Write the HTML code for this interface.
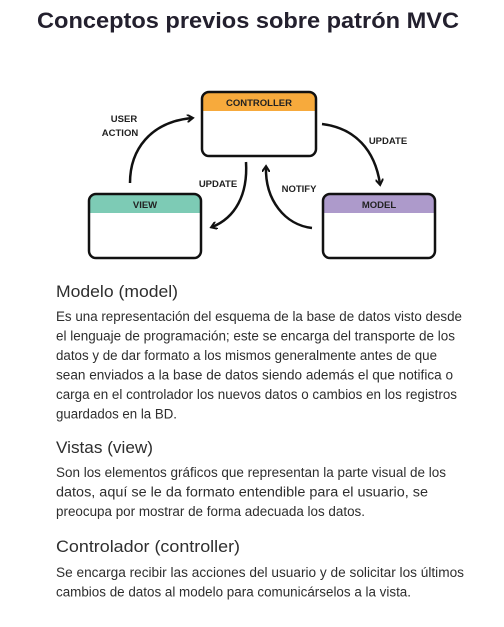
<!DOCTYPE html>
<html><head><meta charset="utf-8"><style>
html,body{margin:0;padding:0;background:#fff;width:504px;height:627px;overflow:hidden}
svg{display:block}
.t{font-family:"Liberation Sans",Arial,sans-serif;fill:#2e2e2e}
.d{font-family:"Liberation Sans",Arial,sans-serif;font-size:9.5px;font-weight:bold;fill:#222}
</style></head><body>
<svg width="504" height="627" viewBox="0 0 504 627" xmlns="http://www.w3.org/2000/svg">
<defs><marker id="a" markerWidth="8" markerHeight="8" refX="5" refY="4" orient="auto" markerUnits="userSpaceOnUse"><path d="M0,0 L6,4 L0,8" fill="none" stroke="#111" stroke-width="2"/></marker></defs>
<text x="248" y="28" text-anchor="middle" font-family="Liberation Sans,Arial,sans-serif" font-weight="bold" font-size="22" fill="#23202e" textLength="422" lengthAdjust="spacingAndGlyphs">Conceptos previos sobre patrón MVC</text>

<g stroke="#111" stroke-width="2.5">
<path d="M202,111 V98 a6,6 0 0 1 6,-6 H310 a6,6 0 0 1 6,6 V111 Z" fill="#f7aa3c" stroke="none"/>
<rect x="202" y="92" width="114" height="64" rx="7" fill="none"/>
<path d="M89,213 V200 a6,6 0 0 1 6,-6 H195 a6,6 0 0 1 6,6 V213 Z" fill="#7dcbb5" stroke="none"/>
<rect x="89" y="194" width="112" height="64" rx="7" fill="none"/>
<path d="M323,213 V200 a6,6 0 0 1 6,-6 H429 a6,6 0 0 1 6,6 V213 Z" fill="#ad9acb" stroke="none"/>
<rect x="323" y="194" width="112" height="64" rx="7" fill="none"/>
</g>
<text class="d" x="259" y="106" text-anchor="middle">CONTROLLER</text>
<text class="d" x="145" y="208" text-anchor="middle">VIEW</text>
<text class="d" x="379" y="208" text-anchor="middle">MODEL</text>

<g fill="none" stroke="#111" stroke-width="2.5" marker-end="url(#a)">
<path d="M130,183 C130,150 150,122 192,118"/>
<path d="M322,124 C355,128 375,150 380,184"/>
<path d="M246,162 C248,195 235,218 212,227"/>
<path d="M312,228 C285,225 265,200 266,167"/>
</g>
<text class="d" x="124" y="122" text-anchor="middle">USER</text>
<text class="d" x="120" y="136" text-anchor="middle">ACTION</text>
<text class="d" x="388" y="144" text-anchor="middle">UPDATE</text>
<text class="d" x="218" y="187" text-anchor="middle">UPDATE</text>
<text class="d" x="299" y="192" text-anchor="middle">NOTIFY</text>

<text class="t" x="56" y="297" font-size="17" textLength="122" lengthAdjust="spacingAndGlyphs">Modelo (model)</text>
<g class="t" font-size="13.5">
<text x="56" y="321" textLength="406" lengthAdjust="spacingAndGlyphs">Es una representación del esquema de la base de datos visto desde</text>
<text x="56" y="340.5" textLength="399" lengthAdjust="spacingAndGlyphs">el lenguaje de programación; este se encarga del transporte de los</text>
<text x="56" y="360" textLength="381" lengthAdjust="spacingAndGlyphs">datos y de dar formato a los mismos generalmente antes de que</text>
<text x="56" y="379.5" textLength="397" lengthAdjust="spacingAndGlyphs">sean enviados a la base de datos siendo además el que notifica o</text>
<text x="56" y="399" textLength="401" lengthAdjust="spacingAndGlyphs">carga en el controlador los nuevos datos o cambios en los registros</text>
<text x="56" y="418.5" textLength="121" lengthAdjust="spacingAndGlyphs">guardados en la BD.</text>
</g>
<text class="t" x="56" y="453" font-size="17" textLength="97" lengthAdjust="spacingAndGlyphs">Vistas (view)</text>
<g class="t" font-size="13.5">
<text x="56" y="477" textLength="390" lengthAdjust="spacingAndGlyphs">Son los elementos gráficos que representan la parte visual de los</text>
<text x="56" y="496.5" textLength="372" lengthAdjust="spacingAndGlyphs">datos, aquí se le da formato entendible para el usuario, se</text>
<text x="56" y="516" textLength="309" lengthAdjust="spacingAndGlyphs">preocupa por mostrar de forma adecuada los datos.</text>
</g>
<text class="t" x="56" y="552" font-size="17" textLength="184" lengthAdjust="spacingAndGlyphs">Controlador (controller)</text>
<g class="t" font-size="13.5">
<text x="56" y="577" textLength="408" lengthAdjust="spacingAndGlyphs">Se encarga recibir las acciones del usuario y de solicitar los últimos</text>
<text x="56" y="596.5" textLength="355" lengthAdjust="spacingAndGlyphs">cambios de datos al modelo para comunicárselos a la vista.</text>
</g>
</svg>
</body></html>
